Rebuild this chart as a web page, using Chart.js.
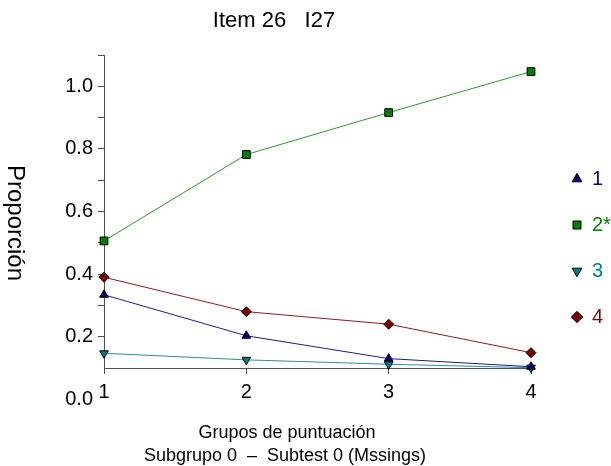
<!DOCTYPE html>
<html lang="es">
<head>
<meta charset="UTF-8">
<title>Item 26 I27</title>
<script src="https://cdn.jsdelivr.net/npm/chart.js"></script>
<style>
  html, body { margin: 0; padding: 0; background: #fff; }
  #wrap { width: 611px; height: 466px; }
</style>
</head>
<body>
<div id="wrap"><canvas id="itemChart"></canvas></div>
<script>
  // datos
  const grupos = ['1', '2', '3', '4'];
  const nombres = ['1', '2*', '3', '4'];
  const opcion1 = [0.334, 0.203, 0.130, 0.104];
  const opcion2 = [0.506, 0.782, 0.916, 1.047];
  const opcion3 = [0.147, 0.126, 0.112, 0.101];
  const opcion4 = [0.390, 0.280, 0.240, 0.149];
  const yTicks = [0.0, 0.2, 0.3, 0.4, 0.5, 0.6, 0.7, 0.8, 0.9, 1.0, 1.1];
  const yTickLabels = ['0.0', '0.2', '', '0.4', '', '0.6', '', '0.8', '', '1.0', ''];

  const titulo = 'Item 26   I27';
  const tituloY = 'Proporción';
  const tituloX = ['Grupos de puntuación', 'Subgrupo 0  \u2013  Subtest 0 (Mssings)'];

  const lineas = ['#1c1c8c', '#2a9a2a', '#2a9090', '#8c1a1a'];
  const rellenos = ['#000080', '#008000', '#008080', '#800000'];
  const fuente = '"Liberation Sans", Arial, sans-serif';
  const gris = '#505050';

  // textos fuera de los ejes (título, títulos de ejes)
  const textos = {
    id: 'textos',
    afterDraw(chart) {
      const c = chart.ctx;
      c.save();
      c.fillStyle = '#000';
      c.textAlign = 'center';
      c.textBaseline = 'middle';
      c.font = '22px ' + fuente;
      c.fillText(titulo, 274, 21);
      c.font = '18px ' + fuente;
      c.fillText(tituloX[0], 287, 433);
      c.fillText(tituloX[1], 285, 456);
      c.translate(15, 223);
      c.rotate(Math.PI / 2);
      c.font = '24px ' + fuente;
      c.fillText(tituloY, 0, 0);
      c.restore();
    }
  };

  function serie(i, data, estilo, rot) {
    return {
      label: nombres[i],
      data: data,
      borderColor: lineas[i],
      backgroundColor: rellenos[i],
      borderWidth: 1,
      tension: 0,
      pointStyle: estilo,
      pointRotation: rot,
      pointRadius: estilo === 'rect' ? 5.5 : 5,
      pointBackgroundColor: rellenos[i],
      pointBorderColor: '#000',
      pointBorderWidth: 1,
      clip: false,
      yAxisID: 'y'
    };
  }

  new Chart(document.getElementById('itemChart'), {
    type: 'line',
    data: {
      labels: grupos,
      datasets: [
        serie(0, opcion1, 'triangle', 0),
        serie(1, opcion2, 'rect', 0),
        serie(2, opcion3, 'triangle', 180),
        serie(3, opcion4, 'rectRot', 0)
      ]
    },
    options: {
      responsive: true,
      maintainAspectRatio: false,
      animation: false,
      layout: { padding: { top: 55, left: 64, right: 0, bottom: 25 } },
      plugins: {
        title: { display: false },
        tooltip: { enabled: false },
        legend: {
          position: 'right',
          maxWidth: 65,
          labels: {
            usePointStyle: true,
            boxWidth: 10,
            boxHeight: 8,
            padding: 26,
            font: { family: fuente, size: 20 },
            generateLabels(chart) {
              const items = Chart.defaults.plugins.legend.labels.generateLabels(chart);
              items.forEach((it, i) => { it.fontColor = rellenos[i]; });
              return items;
            }
          }
        }
      },
      scales: {
        x: {
          type: 'category',
          grid: { drawOnChartArea: false, tickLength: 6, color: gris },
          border: { color: gris, width: 1 },
          ticks: { color: '#000', padding: 6, font: { family: fuente, size: 20 } },
          afterFit(s) { s.height = 73; }
        },
        y: {
          position: 'left',
          min: 0.1,
          max: 1.1,
          afterBuildTicks(s) { s.ticks = yTicks.map(v => ({ value: v })); },
          grid: {
            drawOnChartArea: false,
            tickLength: 6,
            color: ctx => (ctx.tick && ctx.tick.value === 0) ? 'rgba(0,0,0,0)' : gris
          },
          border: { color: gris, width: 1 },
          ticks: {
            autoSkip: false,
            color: '#000',
            padding: 5,
            font: { family: fuente, size: 20 },
            callback: (v, i) => yTickLabels[i]
          },
          afterFit(s) { s.width = 40; }
        },
        hueco: {
          type: 'linear',
          position: 'right',
          ticks: { display: false },
          grid: { display: false },
          border: { display: false },
          afterFit(s) { s.width = 15; }
        }
      }
    },
    plugins: [textos]
  });
</script>
</body>
</html>
